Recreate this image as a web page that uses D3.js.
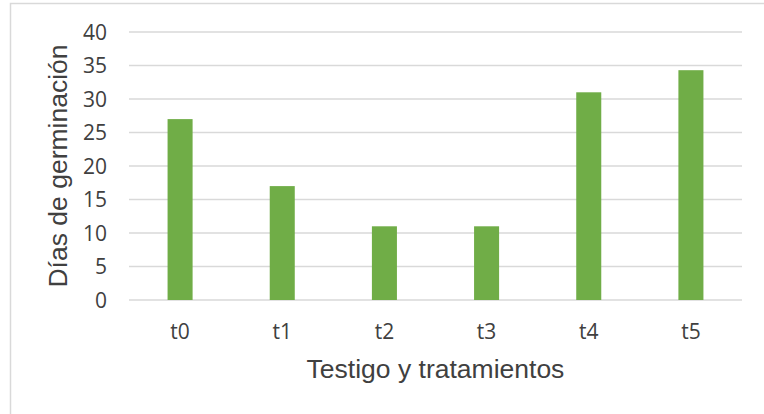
<!DOCTYPE html>
<html>
<head>
<meta charset="utf-8">
<script src="https://cdn.jsdelivr.net/npm/d3@7"></script>
<style>
  body { margin: 0; background: #fff; }
  .tick-label { font-family: "Open Sans", sans-serif; font-size: 21px; fill: #404040; }
  .axis-title { font-family: "Liberation Sans", Arial, sans-serif; font-size: 26.5px; fill: #404040; }
</style>
</head>
<body>
<div id="chart"></div>
<script>
// chart data
let categories = ["t0", "t1", "t2", "t3", "t4", "t5"];
let values = [27, 17, 11, 11, 31, 34.3];
let yTicks = [0, 5, 10, 15, 20, 25, 30, 35, 40];

let width = 764, height = 414;
let margin = {top: 32, right: 22, bottom: 114, left: 129};

let svg = d3.select("#chart").append("svg")
    .attr("width", width)
    .attr("height", height);

//Chart area border (cut by the picture's right and bottom edges)
svg.append("rect")
    .attr("x", 10.5)
    .attr("y", 3.5)
    .attr("width", width)
    .attr("height", height)
    .attr("fill", "none")
    .attr("stroke", "#d9d9d9")
    .attr("stroke-width", 1.5);

let x = d3.scaleBand()
    .domain(categories)
    .range([margin.left, width - margin.right])
    .paddingInner(0.755)
    .paddingOuter(0.3775);

let y = d3.scaleLinear()
    .domain([0, 40])
    .range([height - margin.bottom, margin.top]);

//Gridlines
svg.append("g").selectAll("line")
    .data(yTicks)
    .enter()
    .append("line")
    .attr("x1", margin.left)
    .attr("x2", width - margin.right)
    .attr("y1", function(d) { return y(d); })
    .attr("y2", function(d) { return y(d); })
    .attr("stroke", "#d9d9d9")
    .attr("stroke-width", 1.5);

//Y tick labels
svg.append("g").selectAll("text")
    .data(yTicks)
    .enter()
    .append("text")
    .attr("class", "tick-label")
    .attr("x", 107)
    .attr("y", function(d) { return y(d); })
    .attr("dy", "0.36em")
    .attr("text-anchor", "end")
    .text(function(d) { return d; });

//Bars
svg.append("g").selectAll("rect")
    .data(values)
    .enter()
    .append("rect")
    .attr("x", function(d, i) { return x(categories[i]); })
    .attr("y", function(d) { return y(d); })
    .attr("width", x.bandwidth())
    .attr("height", function(d) { return y(0) - y(d); })
    .attr("fill", "#70ad47");

//X tick labels
svg.append("g").selectAll("text")
    .data(categories)
    .enter()
    .append("text")
    .attr("class", "tick-label")
    .attr("x", function(d) { return x(d) + x.bandwidth() / 2; })
    .attr("y", 339)
    .attr("text-anchor", "middle")
    .text(function(d) { return d; });

//Axis titles
svg.append("text")
    .attr("class", "axis-title")
    .attr("x", (margin.left + width - margin.right) / 2)
    .attr("y", 378)
    .attr("text-anchor", "middle")
    .text("Testigo y tratamientos");

svg.append("text")
    .attr("class", "axis-title")
    .attr("transform", "translate(67," + ((y(0) + y(40)) / 2) + ") rotate(-90)")
    .attr("text-anchor", "middle")
    .text("Días de germinación");
</script>
</body>
</html>
